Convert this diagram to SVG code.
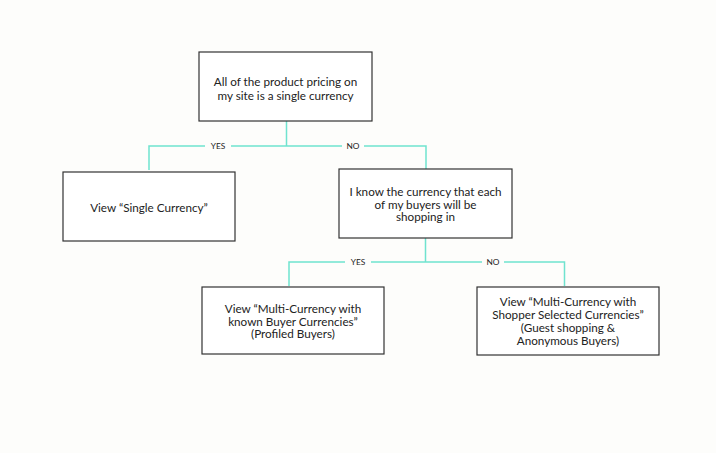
<svg xmlns="http://www.w3.org/2000/svg" width="716" height="453" viewBox="0 0 716 453">
<style>
.bg{fill:#fdfdfb}
.box{fill:#ffffff;stroke:#333333;stroke-width:1.2}
.t{font-family:Lato,"Noto Sans",sans-serif;font-size:11.7px;fill:#222222;text-anchor:middle}
.c{fill:none;stroke:#6fe3cf;stroke-width:1.5}
.lbl{font-family:Lato,"Noto Sans",sans-serif;font-size:8.3px;fill:#222222;text-anchor:middle}
.gap{fill:#fdfdfb}
</style>
<rect class="bg" x="0" y="0" width="716" height="453"/>
<g id="connectors">
<path class="c" d="M286.5 121 V146 M149 170 V146 H426 V170"/>
<path class="c" d="M425.5 238 V262 M289 286 V262 H564.5 V286"/>
<rect class="gap" x="205" y="141" width="26" height="10"/>
<rect class="gap" x="342" y="141" width="22" height="10"/>
<rect class="gap" x="345" y="257" width="26" height="10"/>
<rect class="gap" x="482" y="257" width="22" height="10"/>
<text class="lbl" x="218" y="149">YES</text>
<text class="lbl" x="353" y="149">NO</text>
<text class="lbl" x="358" y="265">YES</text>
<text class="lbl" x="493" y="265">NO</text>
</g>
<g id="n1">
<rect class="box" x="199" y="52" width="173" height="69"/>
<text class="t" x="285.5" y="85.5">All of the product pricing on</text>
<text class="t" x="285.5" y="99.5">my site is a single currency</text>
</g>
<g id="n2">
<rect class="box" x="63" y="172" width="172" height="69"/>
<text class="t" x="149" y="211.5">View “Single Currency”</text>
</g>
<g id="n3">
<rect class="box" x="339" y="169" width="173" height="69"/>
<text class="t" x="425.5" y="196">I know the currency that each</text>
<text class="t" x="425.5" y="208.5">of my buyers will be</text>
<text class="t" x="425.5" y="221">shopping in</text>
</g>
<g id="n4">
<rect class="box" x="202" y="287" width="182" height="67"/>
<text class="t" x="293" y="313">View “Multi-Currency with</text>
<text class="t" x="293" y="325.5">known Buyer Currencies”</text>
<text class="t" x="293" y="338">(Profiled Buyers)</text>
</g>
<g id="n5">
<rect class="box" x="477" y="287" width="182" height="68"/>
<text class="t" x="568" y="305.5">View “Multi-Currency with</text>
<text class="t" x="568" y="318.5">Shopper Selected Currencies”</text>
<text class="t" x="568" y="331.5">(Guest shopping &amp;</text>
<text class="t" x="568" y="344.5">Anonymous Buyers)</text>
</g>
</svg>
